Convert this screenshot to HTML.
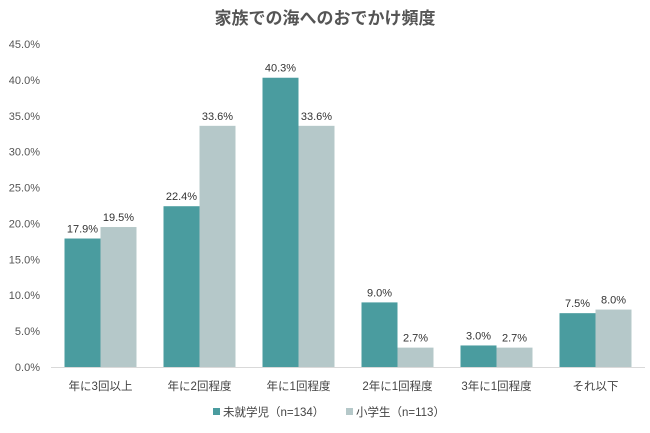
<!DOCTYPE html>
<html><head><meta charset="utf-8"><style>
body{margin:0;background:#fff;}
svg text{font-family:"Liberation Sans","Noto Sans CJK JP",sans-serif;}
</style></head><body>
<svg id="c" width="650" height="428" viewBox="0 0 650 428">
<text x="325" y="24" text-anchor="middle" font-size="17" font-weight="bold" fill="#555">家族での海へのおでかけ頻度</text>
</svg>
<script>
const categories=["年に3回以上","年に2回程度","年に1回程度","2年に1回程度","3年に1回程度","それ以下"];
const preschool=[17.9,22.4,40.3,9.0,3.0,7.5];
const elementary=[19.5,33.6,33.6,2.7,2.7,8.0];
const yTicks=[0,5,10,15,20,25,30,35,40,45];
const svg=document.getElementById('c');
const NS='http://www.w3.org/2000/svg';
const x0=51,x1=645,y0=367,yTop=44,yMax=45;
const cw=(x1-x0)/categories.length,bw=36;
function Y(v){return y0-(v/yMax)*(y0-yTop);}
function mk(t,a,txt){const e=document.createElementNS(NS,t);for(const k in a)e.setAttribute(k,a[k]);if(txt!=null)e.textContent=txt;svg.appendChild(e);return e;}
yTicks.forEach(t=>{
 const e=mk('text',{x:40,y:Y(t)+4,'text-anchor':'end','font-size':11,fill:'#555'},t.toFixed(1)+'%');
 
 
});
const ax=mk('line',{x1:x0,x2:x1,y1:y0+0.5,y2:y0+0.5,stroke:'#d9d9d9','stroke-width':1});


categories.forEach((c,i)=>{
 const cx=x0+cw*(i+0.5);
 [[preschool[i],'#4a9c9f',cx-bw,'bar-preschool'],[elementary[i],'#b5c8c9',cx,'bar-elementary']].forEach(([v,col,bx,n])=>{
  const r=mk('rect',{x:bx,y:Y(v),width:bw,height:y0-Y(v),fill:col});
  
  
  const l=mk('text',{x:bx+bw/2,y:Y(v)-6,'text-anchor':'middle','font-size':11,fill:'#333'},v.toFixed(1)+'%');
  
  
 });
 const t=mk('text',{x:cx,y:390,'text-anchor':'middle','font-size':11.5,fill:'#444'},c);
 
 
});
const leg=[['#4a9c9f','未就学児（n=134）',213],['#b5c8c9','小学生（n=113）',346]];
leg.forEach(([col,txt,lx])=>{
 const s=mk('rect',{x:lx,y:408,width:7,height:7,fill:col});
 
 
 const t=mk('text',{x:lx+10,y:416,'font-size':11.5,fill:'#444'},txt);
 
 
});
</script>
</body></html>
